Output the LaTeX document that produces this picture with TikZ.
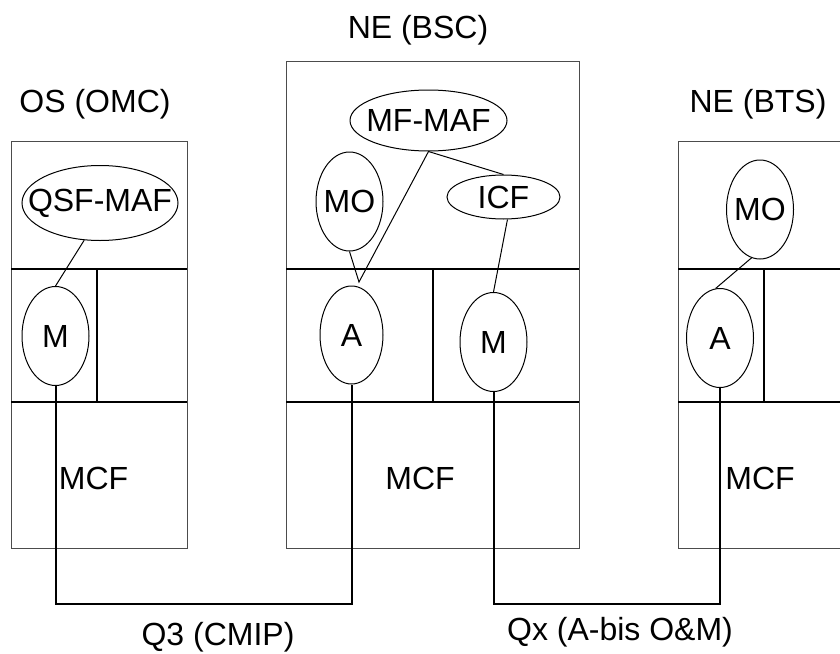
\documentclass[tikz,border=0pt]{standalone}
\usepackage{fontspec}
\setmainfont{Liberation Sans}
\usetikzlibrary{shapes.geometric}

\begin{document}
\begin{tikzpicture}[x=1pt,y=-1pt,
	every node/.style={font=\fontsize{32}{36}\selectfont},
	fn/.style={shape=ellipse,draw,line width=1pt,inner sep=0pt,minimum width=67pt,minimum height=99pt},
	lbl/.style={inner sep=0pt},
	outer/.style={draw=black!70,line width=1pt},
	part/.style={line width=2pt},
	link/.style={line width=1pt},
	conn/.style={line width=2pt}]
		\clip (0,0) rectangle (840,653);
		% network elements
		\draw[outer] (11,141) rectangle (187,548);
		\draw[outer] (286,61) rectangle (579,548);
		\draw[outer] (678,141) rectangle (880,548);
		\draw[part] (11,269) -- (187,269) (11,402) -- (187,402) (97,269) -- (97,402);
		\draw[part] (286,269) -- (579,269) (286,402) -- (579,402) (433,269) -- (433,402);
		\draw[part] (678,269) -- (880,269) (678,402) -- (880,402) (764,269) -- (764,402);
		% titles
		\node[lbl] (omc) at (95,104) {OS (OMC)};
		\node[lbl] (bsc) at (418,30) {NE (BSC)};
		\node[lbl] (bts) at (758,104) {NE (BTS)};
		% functions
		\node[fn,minimum width=156pt,minimum height=75pt] (qsf) at (100,203) {\makebox[0pt]{QSF-MAF}};
		\node[fn] (mos) at (55.5,336) {\makebox[0pt]{M}};
		\node[fn,minimum width=157pt,minimum height=61pt] (mfmaf) at (428.5,120.5) {\makebox[0pt]{MF-MAF}};
		\node[fn] (mob) at (349.5,201.5) {\makebox[0pt]{MO}};
		\node[fn,minimum width=113pt,minimum height=44pt] (icf) at (503.5,197) {\makebox[0pt]{ICF}};
		\node[fn,minimum width=63pt,minimum height=98pt] (ab) at (351.5,335) {\makebox[0pt]{A}};
		\node[fn] (mb) at (493.5,342) {\makebox[0pt]{M}};
		\node[fn] (mot) at (760,209.5) {\makebox[0pt]{MO}};
		\node[fn] (at) at (720,338) {\makebox[0pt]{A}};
		\node[lbl] (mcfs) at (93.5,478) {MCF};
		\node[lbl] (mcfb) at (420,478) {MCF};
		\node[lbl] (mcft) at (760,478) {MCF};
		\coordinate (tip) at (359,282);
		\draw[link] (qsf.-113) -- (mos.north);
		\draw[link] (mob.south) -- (tip) -- (mfmaf.south) -- (icf.north);
		\draw[link] (icf.-80) -- (mb.north);
		\draw[link] (mot.-100) -- (at.95);
		% interfaces
		\coordinate (q3) at (200,604);
		\coordinate (qx) at (600,604);
		\draw[conn] (mos.south) |- (q3) -| (ab.south);
		\draw[conn] (mb.south) |- (qx) -| (at.south);
		\node[lbl] (q3lbl) at (218,637) {Q3 (CMIP)};
		\node[lbl] (qxlbl) at (620,632) {Qx (A-bis O\&M)};
\end{tikzpicture}
\end{document}
